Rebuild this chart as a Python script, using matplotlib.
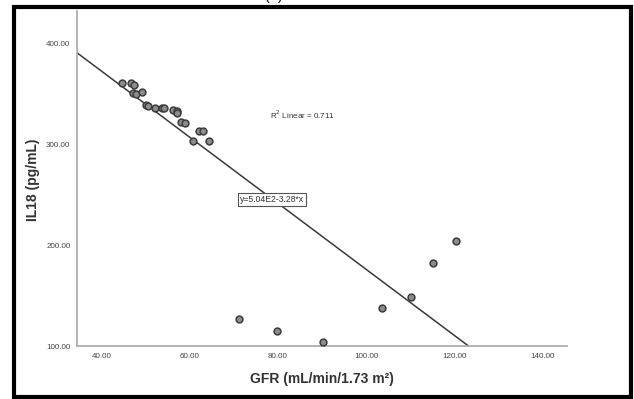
import numpy as np
import matplotlib.pyplot as plt
from matplotlib.patches import Rectangle

plt.rcParams['font.family'] = ['Liberation Sans', 'DejaVu Sans']

gfr = [44.7, 46.6, 47.4, 47.2, 47.7, 49.1, 50.0, 50.6, 52.1, 53.6, 54.2,
       56.2, 57.0, 57.2, 58.1, 59.0, 62.1, 63.0, 60.8, 64.4,
       71.1, 79.7, 90.3, 103.5, 110.1, 115.2, 120.3]
il18 = [360.9, 361.5, 359.0, 351.0, 350.0, 352.0, 339.0, 338.0, 336.0, 336.0, 336.0,
        334.0, 333.7, 331.0, 322.0, 321.0, 313.0, 313.0, 303.0, 303.0,
        126.5, 115.2, 104.3, 138.0, 148.4, 182.7, 204.6]

# fit line reported on the chart
intercept = 504.0
slope = -3.28
r2 = 0.711

xticks = [40, 60, 80, 100, 120, 140]
yticks = [100, 200, 300, 400]

fig = plt.figure(figsize=(6.34, 3.99), dpi=100)
ax = fig.add_axes([0.1219, 0.1328, 0.7724, 0.8396])

xmin, xmax = 34.5, 145.5
ymin, ymax = 100, 432.5

xl = np.array([xmin, xmax])
ax.plot(xl, intercept + slope * xl, color='#3a3a3a', lw=1.1, zorder=2)

ax.scatter(gfr, il18, s=24, facecolor='#8c8c8c', edgecolor='#3c3c3c',
           linewidth=1.1, zorder=3)

ax.set_xlim(xmin, xmax)
ax.set_ylim(ymin, ymax)
ax.set_xticks(xticks)
ax.set_xticklabels([f'{v:.2f}' for v in xticks])
ax.set_yticks(yticks)
ax.set_yticklabels([f'{v:.2f}' for v in yticks])
ax.tick_params(length=0, labelsize=5.8, colors='#444444', pad=5)

for s in ['top', 'right']:
    ax.spines[s].set_visible(False)
for s in ['left', 'bottom']:
    ax.spines[s].set_color('#a8a8a8')
    ax.spines[s].set_linewidth(1.2)

ax.set_xlabel('GFR (mL/min/1.73 m²)', fontsize=10, fontweight='bold',
              color='#333333')
ax.set_ylabel('IL18 (pg/mL)', fontsize=10, fontweight='bold',
              color='#333333')
ax.xaxis.set_label_coords(0.4997, -0.0985)
ax.yaxis.set_label_coords(-0.0905, 0.4955)
ax.xaxis.label.set_va('center')
ax.yaxis.label.set_va('center')

ax.text(78.2, 329.4, f'R$^2$ Linear = {r2}', fontsize=5.8, color='#333333',
        ha='left', va='center')
ax.text(71.4, 245.5, 'y=5.04E2-3.28*x', fontsize=6.2, color='#333333',
        ha='left', va='center',
        bbox=dict(boxstyle='square,pad=0.25', fc='white', ec='#555555', lw=0.8))

# outer frame and clipped panel label
fig.patches.append(Rectangle((13.5 / 634, 2.5 / 399), 617 / 634, 390 / 399,
                             transform=fig.transFigure, fill=False,
                             ec='black', lw=3.0))
fig.text(0.432, 1.0, '(A)', fontsize=10, ha='center', va='baseline')

fig.savefig('out.png', dpi=100)
